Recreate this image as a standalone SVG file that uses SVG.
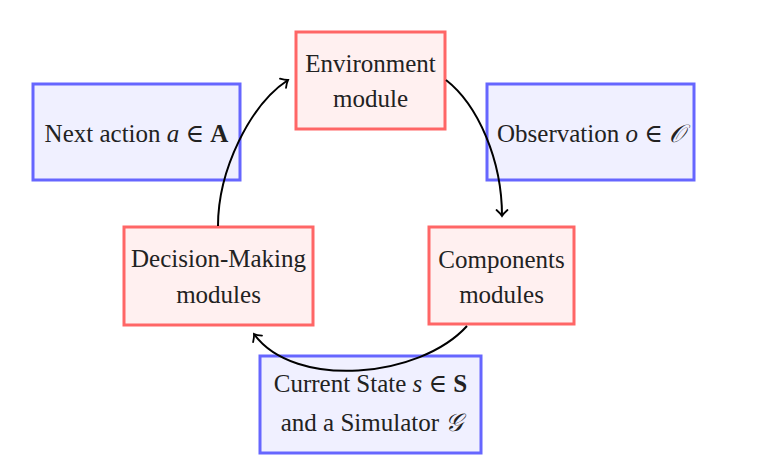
<svg xmlns="http://www.w3.org/2000/svg" width="775" height="471" viewBox="0 0 775 471">
<defs>
<style>
.red rect{fill:#fff0f0;stroke:#ff6666;stroke-width:3}
.blue rect{fill:#f0f0ff;stroke:#6666ff;stroke-width:3}
text{font-family:"Liberation Serif","DejaVu Serif",serif;font-size:25px;fill:#222;text-anchor:middle}
.it{font-style:italic}
.bf{font-weight:bold}
.cal{font-family:"DejaVu Sans","Noto Sans",serif;font-style:italic}
.conn path{fill:none;stroke:#000;stroke-width:2}
</style>
<marker id="arr" markerUnits="userSpaceOnUse" markerWidth="16" markerHeight="16" refX="1" refY="0" viewBox="-8 -8 16 16" orient="auto" overflow="visible">
<path d="M-5,-5.5 Q-1.5,-1.5 1,0 Q-1.5,1.5 -5,5.5" fill="none" stroke="#000" stroke-width="1.8" stroke-linecap="round"/>
</marker>
</defs>
<rect width="775" height="471" fill="#fff"/>
<g id="next-action" class="blue">
<rect x="33" y="84" width="207" height="96"/>
<text x="136.5" y="142">Next action <tspan class="it">a</tspan> ∈ <tspan class="bf">A</tspan></text>
</g>
<g id="observation" class="blue">
<rect x="487" y="84" width="207" height="96"/>
<text x="591" y="142">Observation <tspan class="it">o</tspan> ∈ <tspan class="cal">𝒪</tspan></text>
</g>
<g id="current-state" class="blue">
<rect x="260" y="356" width="221" height="97"/>
<text x="370.5" y="392">Current State <tspan class="it">s</tspan> ∈ <tspan class="bf">S</tspan></text>
<text x="372" y="431">and a Simulator <tspan class="cal">𝒢</tspan></text>
</g>
<g id="environment" class="red">
<rect x="296" y="32" width="149" height="97"/>
<text x="370.5" y="72">Environment</text>
<text x="370.5" y="107">module</text>
</g>
<g id="decision-making" class="red">
<rect x="124" y="227" width="189" height="98"/>
<text x="218.5" y="267">Decision-Making</text>
<text x="218.5" y="303">modules</text>
</g>
<g id="components" class="red">
<rect x="429" y="227" width="145" height="97"/>
<text x="501.5" y="268">Components</text>
<text x="501.5" y="303">modules</text>
</g>
<g id="connectors" class="conn">
<path d="M446,80 C478,105 502,160 502,216" marker-end="url(#arr)"/>
<path d="M467,326 C420,378 295,390 254,334" marker-end="url(#arr)"/>
<path d="M218,226 C218,170 250,105 288,80" marker-end="url(#arr)"/>
</g>
</svg>
